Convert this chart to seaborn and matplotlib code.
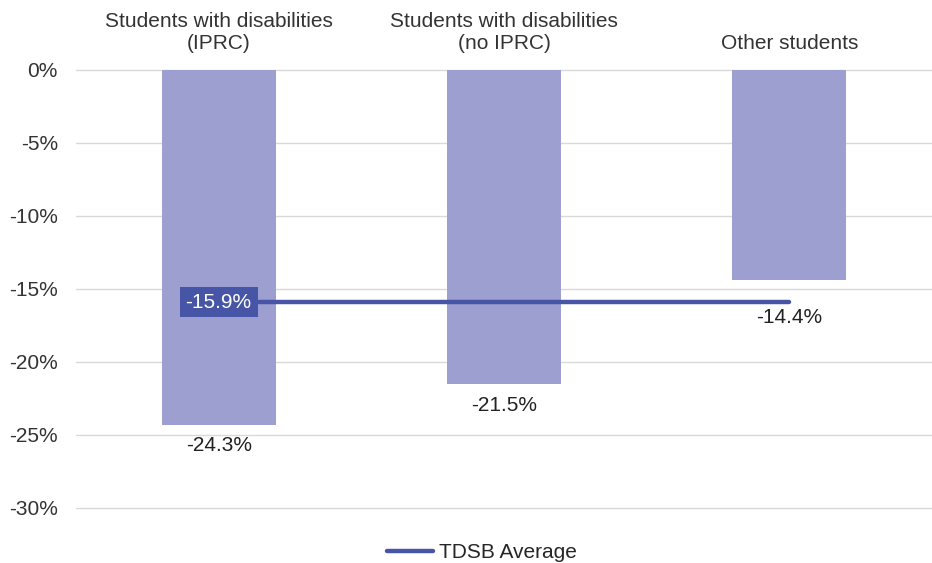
import matplotlib
matplotlib.use("Agg")
import matplotlib.pyplot as plt
import seaborn as sns
import pandas as pd

categories = ["Students with disabilities\n(IPRC)",
              "Students with disabilities\n(no IPRC)",
              "Other students"]
change_pct = [-24.3, -21.5, -14.4]
tdsb_average = -15.9
y_ticks = [0, -5, -10, -15, -20, -25, -30]

bar_color = "#9c9fcf"
line_color = "#4755a6"

sns.set_theme(style="white")
plt.rcParams["font.family"] = ["Liberation Sans", "DejaVu Sans"]

df = pd.DataFrame({"group": categories, "change": change_pct})

fig = plt.figure(figsize=(9.32, 5.63), dpi=100)
ax = fig.add_axes([0.0815, 0.0977, 0.9185, 0.778])

sns.barplot(data=df, x="group", y="change", color=bar_color, width=0.4,
            saturation=1, ax=ax, zorder=2, edgecolor="none")

# average line across the groups
avg_df = pd.DataFrame({"x": [0, 2], "y": [tdsb_average, tdsb_average]})
sns.lineplot(data=avg_df, x="x", y="y", color=line_color, linewidth=3.2,
             ax=ax, zorder=3, label="TDSB Average")
ax.text(0, tdsb_average, f"{tdsb_average:.1f}%", ha="center", va="center",
        fontsize=15, color="white", zorder=4,
        bbox=dict(boxstyle="square,pad=0.28", fc=line_color, ec="none"))

for i, v in enumerate(change_pct):
    # push the label clear of the average line when the bar ends near it
    gap = 0.8 if v < tdsb_average - 1 else 1.9
    ax.text(i, v - gap, f"{v:.1f}%", ha="center", va="top", fontsize=15,
            color="#222222", zorder=4)

ax.set_ylim(-30, 0)
ax.set_xlim(-0.5, 2.5)
ax.set_yticks(y_ticks)
ax.set_yticklabels([f"{t}%" for t in y_ticks], fontsize=15, color="#333333")
ax.yaxis.grid(True, color="#d9d9d9", linewidth=1, zorder=0)
for gl in ax.yaxis.get_gridlines():
    gl.set_clip_on(False)
ax.set_axisbelow(True)
ax.tick_params(axis="y", length=0, pad=13)

ax.xaxis.tick_top()
ax.tick_params(axis="x", length=0, pad=12, labelsize=15, colors="#333333")
ax.set_xlabel("")
ax.set_ylabel("")
for s in ax.spines.values():
    s.set_visible(False)

ax.legend(loc="upper center", bbox_to_anchor=(0.474, -0.038), frameon=False,
          fontsize=15, handlelength=2.2, handletextpad=0.3)

fig.savefig("out.png", dpi=100)
